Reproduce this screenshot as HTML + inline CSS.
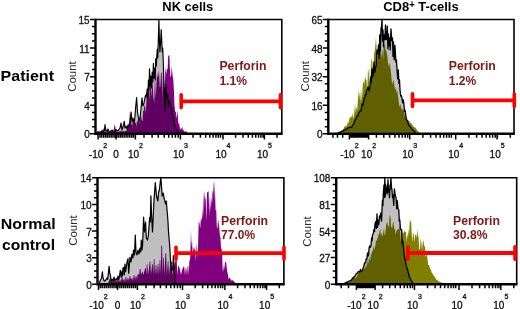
<!DOCTYPE html><html><head><meta charset="utf-8"><style>html,body{margin:0;padding:0;background:#fff;width:520px;height:309px;overflow:hidden}svg{display:block}</style></head><body><svg width="520" height="309" viewBox="0 0 520 309"><path d="M96.5 133.3L96.5 133.3L97.2 132.5L98.0 131.5L98.7 132.5L99.3 132.5L100.0 132.0L100.7 131.8L101.3 131.7L102.0 130.5L102.7 131.4L103.3 131.8L104.0 131.0L104.5 130.4L105.0 124.5L105.5 128.1L106.0 131.0L106.7 130.4L107.3 131.5L108.0 129.0L108.7 130.7L109.3 131.9L110.0 131.5L110.7 131.0L111.3 131.2L112.0 130.0L112.7 131.7L113.3 131.3L114.0 131.5L114.7 132.2L115.3 131.9L116.0 129.5L116.7 130.1L117.3 130.5L118.0 131.0L120.0 128.0L121.0 123.0L122.0 130.0L123.0 127.0L124.2 121.4L125.0 128.0L126.0 126.0L127.0 129.0L128.0 125.0L129.0 127.0L130.0 122.0L131.1 112.0L132.0 122.0L133.0 118.0L134.3 124.0L135.6 108.0L136.6 97.5L137.5 112.0L138.5 118.0L139.7 121.0L140.7 112.0L142.0 97.8L142.8 106.0L143.8 104.0L145.5 95.0L146.3 97.0L147.2 89.0L147.8 98.0L148.4 80.0L149.0 90.0L149.5 68.8L150.2 86.0L150.8 76.0L151.5 88.0L152.2 72.0L152.8 82.0L153.4 63.4L154.0 78.0L154.6 68.0L155.2 80.0L155.7 58.7L156.3 66.0L156.8 56.0L157.3 49.0L157.8 58.0L158.3 40.0L158.9 19.5L159.4 40.0L159.9 52.0L160.5 44.0L161.2 29.7L161.8 42.0L162.3 52.0L162.7 48.0L163.2 60.0L163.5 70.0L163.9 80.0L164.6 98.4L165.2 111.4L165.9 84.7L166.5 98.2L167.2 96.4L167.8 94.0L168.4 106.2L169.0 100.0L169.8 102.5L170.5 104.0L171.2 109.6L172.0 108.0L172.8 118.0L173.5 117.0L174.3 124.9L175.2 125.7L175.8 128.0L176.4 129.2L177.0 130.0L177.7 131.2L178.3 132.1L179.0 132.5L179.7 132.9L180.3 133.0L181.0 133.3L181.0 133.3Z" fill="#c0c0c0"/><path d="M97.0 133.3L97.0 133.3L97.8 132.9L98.5 132.8L99.2 132.0L100.0 131.5L100.7 132.2L101.3 131.9L102.0 132.0L102.8 130.4L103.7 128.0L104.3 131.5L105.0 131.5L105.8 131.8L106.5 132.2L107.2 132.2L108.0 132.0L108.8 132.1L109.5 131.9L110.2 131.4L111.0 131.0L111.7 132.2L112.3 131.7L113.0 132.0L113.9 128.6L114.8 124.0L115.4 127.6L116.0 131.0L116.8 131.4L117.5 131.7L118.2 132.2L119.0 131.5L119.8 131.6L120.5 131.1L121.2 131.1L122.0 130.5L122.8 132.0L123.5 130.8L124.2 131.6L125.0 131.0L125.7 130.9L126.3 130.9L127.0 129.0L127.8 127.7L128.5 124.0L129.2 122.8L130.0 110.4L130.5 120.5L131.0 122.0L131.7 124.8L132.3 125.6L133.0 118.0L133.7 123.6L134.3 122.2L135.0 123.0L135.7 122.4L136.3 126.8L137.0 120.0L137.7 122.2L138.3 118.9L139.0 116.0L139.7 123.8L140.3 120.1L141.0 114.0L141.7 120.2L142.5 121.0L143.2 110.0L143.8 111.2L144.3 105.0L145.1 107.0L145.9 113.2L146.7 93.7L147.6 90.9L148.4 82.0L149.2 101.0L150.0 80.0L150.8 82.0L151.7 97.5L152.5 78.0L153.3 96.5L154.2 102.9L155.0 74.0L155.7 98.6L156.3 87.9L157.0 72.0L157.7 77.5L158.3 75.4L159.0 70.0L159.7 87.2L160.3 87.1L161.0 72.0L161.7 73.2L162.3 98.6L163.0 69.0L163.8 84.6L164.7 90.4L165.5 66.3L166.2 74.4L167.0 68.0L167.6 70.3L168.2 55.2L168.8 55.7L169.4 55.2L169.8 66.0L170.4 77.6L171.1 75.2L171.7 66.3L172.5 75.0L173.3 80.0L174.0 92.0L174.4 104.0L175.2 111.4L175.9 112.0L176.7 118.8L177.5 110.0L178.3 123.7L179.1 123.0L179.9 128.0L180.4 129.5L181.0 129.0L181.6 128.3L182.2 126.6L182.8 130.0L183.5 130.0L184.2 131.9L185.0 131.0L185.8 131.5L186.5 131.5L187.2 132.6L187.9 132.8L188.6 133.3L188.6 133.3Z" fill="#800080" style="mix-blend-mode:multiply"/><path d="M96.5 133.3L97.2 132.5L98.0 131.5L98.7 132.5L99.3 132.5L100.0 132.0L100.7 131.8L101.3 131.7L102.0 130.5L102.7 131.4L103.3 131.8L104.0 131.0L104.5 130.4L105.0 124.5L105.5 128.1L106.0 131.0L106.7 130.4L107.3 131.5L108.0 129.0L108.7 130.7L109.3 131.9L110.0 131.5L110.7 131.0L111.3 131.2L112.0 130.0L112.7 131.7L113.3 131.3L114.0 131.5L114.7 132.2L115.3 131.9L116.0 129.5L116.7 130.1L117.3 130.5L118.0 131.0L120.0 128.0L121.0 123.0L122.0 130.0L123.0 127.0L124.2 121.4L125.0 128.0L126.0 126.0L127.0 129.0L128.0 125.0L129.0 127.0L130.0 122.0L131.1 112.0L132.0 122.0L133.0 118.0L134.3 124.0L135.6 108.0L136.6 97.5L137.5 112.0L138.5 118.0L139.7 121.0L140.7 112.0L142.0 97.8L142.8 106.0L143.8 104.0L145.5 95.0L146.3 97.0L147.2 89.0L147.8 98.0L148.4 80.0L149.0 90.0L149.5 68.8L150.2 86.0L150.8 76.0L151.5 88.0L152.2 72.0L152.8 82.0L153.4 63.4L154.0 78.0L154.6 68.0L155.2 80.0L155.7 58.7L156.3 66.0L156.8 56.0L157.3 49.0L157.8 58.0L158.3 40.0L158.9 19.5L159.4 40.0L159.9 52.0L160.5 44.0L161.2 29.7L161.8 42.0L162.3 52.0L162.7 48.0L163.2 60.0L163.5 70.0L163.9 80.0L164.6 98.4L165.2 111.4L165.9 84.7L166.5 98.2L167.2 96.4L167.8 94.0L168.4 106.2L169.0 100.0L169.8 102.5L170.5 104.0L171.2 109.6L172.0 108.0L172.8 118.0L173.5 117.0L174.3 124.9L175.2 125.7L175.8 128.0L176.4 129.2L177.0 130.0L177.7 131.2L178.3 132.1L179.0 132.5L179.7 132.9L180.3 133.0L181.0 133.3" fill="none" stroke="#000" stroke-width="1.15" stroke-linejoin="round"/><path d="M338.0 132.7L338.0 132.7L338.6 132.6L339.2 132.4L339.9 132.2L340.5 132.0L341.2 131.6L341.9 131.5L342.6 131.1L343.3 130.7L344.0 130.0L344.7 129.9L345.3 129.7L346.0 129.4L346.7 129.1L347.3 128.5L348.0 128.0L348.8 127.9L349.6 127.4L350.4 127.4L351.1 127.3L351.9 126.9L352.7 125.0L353.5 124.4L354.2 122.6L355.0 120.0L355.8 119.3L356.5 117.2L357.3 115.7L358.0 115.9L358.8 112.7L359.6 111.9L360.4 110.2L361.2 110.9L362.0 104.0L362.7 105.2L363.3 103.7L364.0 98.0L364.7 97.7L365.4 94.2L366.0 94.6L366.7 90.0L367.4 89.7L368.0 87.0L368.7 88.9L369.3 91.2L370.0 85.2L370.7 76.8L371.3 82.6L372.0 68.6L372.7 77.0L373.3 74.3L374.0 62.0L374.8 72.4L375.5 67.7L376.2 65.6L377.0 50.0L377.8 53.5L378.5 45.0L379.1 58.2L379.7 35.0L380.4 51.0L381.0 28.0L381.5 27.3L382.0 19.5L382.5 41.0L383.0 30.0L383.5 46.8L384.0 35.0L384.8 39.5L385.5 25.0L385.9 39.6L386.3 32.0L386.8 39.3L387.3 26.2L387.9 49.1L388.5 34.0L389.0 45.7L389.5 38.0L390.2 50.0L391.0 29.0L391.8 40.5L392.5 38.0L393.0 56.4L393.5 42.0L394.2 59.7L394.9 45.4L395.2 50.0L395.9 62.2L396.5 60.0L397.1 71.2L397.7 78.8L398.3 70.0L398.9 83.4L399.5 80.0L400.0 90.0L400.7 96.0L401.4 95.7L402.0 98.4L402.7 102.9L403.4 100.0L403.9 104.3L404.5 111.4L405.0 110.0L405.7 114.4L406.3 119.6L407.0 120.0L407.8 122.2L408.5 124.9L409.2 125.7L410.0 126.0L410.8 127.6L411.5 128.5L412.2 129.5L413.0 130.0L413.7 130.9L414.4 131.4L415.0 132.1L415.7 132.7L415.7 132.7Z" fill="#c0c0c0"/><path d="M335.0 132.7L335.0 132.7L335.7 132.6L336.5 132.5L337.2 132.3L338.0 132.4L338.7 132.0L339.4 131.6L340.0 131.5L340.7 131.6L341.3 130.5L342.0 130.0L342.7 129.9L343.5 129.3L344.2 127.1L345.0 127.1L345.7 125.0L346.5 126.5L347.2 124.4L348.0 121.0L348.7 123.9L349.3 119.3L350.0 117.0L350.7 117.7L351.4 115.7L352.0 118.1L352.7 112.7L353.5 119.3L354.2 113.8L355.0 104.0L355.8 113.0L356.5 106.5L357.2 110.6L358.0 98.0L358.4 95.8L358.8 90.0L359.5 95.0L360.3 102.0L361.0 88.0L361.7 101.3L362.3 93.2L363.0 82.0L363.7 82.1L364.3 84.6L365.0 76.0L365.8 79.7L366.5 79.9L367.2 93.1L368.0 68.6L368.7 72.4L369.3 91.5L370.0 62.0L370.7 89.2L371.3 61.1L372.0 58.0L372.8 69.1L373.5 71.4L374.2 52.9L375.0 50.0L375.6 37.2L376.2 55.5L376.8 37.2L377.0 48.0L377.7 62.5L378.3 47.9L379.0 45.0L379.7 56.9L380.3 50.4L381.0 50.0L381.8 58.7L382.5 48.0L383.1 60.9L383.8 42.5L384.4 46.2L385.0 42.5L385.5 50.0L386.0 50.0L386.8 53.1L387.5 57.3L388.3 67.0L389.0 62.2L389.8 65.0L390.6 69.1L391.4 77.1L392.1 84.8L392.9 81.7L393.7 80.0L394.4 86.0L395.1 90.2L395.9 86.9L396.6 93.2L397.3 90.0L397.8 95.3L398.3 98.0L399.0 103.7L399.8 107.4L400.5 103.5L401.2 107.9L401.9 109.7L402.7 109.0L403.4 110.0L404.2 112.6L404.9 116.8L405.7 118.0L406.4 116.1L407.2 119.3L407.9 121.3L408.7 120.0L409.5 121.4L410.3 123.1L411.0 122.8L411.8 124.2L412.6 125.6L413.4 126.2L414.1 127.2L414.9 127.2L415.7 128.0L416.5 129.3L417.2 130.5L418.0 131.0L418.7 131.7L419.3 132.2L420.0 132.7L420.0 132.7Z" fill="#808000" style="mix-blend-mode:multiply"/><path d="M338.0 132.7L338.6 132.6L339.2 132.4L339.9 132.2L340.5 132.0L341.2 131.6L341.9 131.5L342.6 131.1L343.3 130.7L344.0 130.0L344.7 129.9L345.3 129.7L346.0 129.4L346.7 129.1L347.3 128.5L348.0 128.0L348.8 127.9L349.6 127.4L350.4 127.4L351.1 127.3L351.9 126.9L352.7 125.0L353.5 124.4L354.2 122.6L355.0 120.0L355.8 119.3L356.5 117.2L357.3 115.7L358.0 115.9L358.8 112.7L359.6 111.9L360.4 110.2L361.2 110.9L362.0 104.0L362.7 105.2L363.3 103.7L364.0 98.0L364.7 97.7L365.4 94.2L366.0 94.6L366.7 90.0L367.4 89.7L368.0 87.0L368.7 88.9L369.3 91.2L370.0 85.2L370.7 76.8L371.3 82.6L372.0 68.6L372.7 77.0L373.3 74.3L374.0 62.0L374.8 72.4L375.5 67.7L376.2 65.6L377.0 50.0L377.8 53.5L378.5 45.0L379.1 58.2L379.7 35.0L380.4 51.0L381.0 28.0L381.5 27.3L382.0 19.5L382.5 41.0L383.0 30.0L383.5 46.8L384.0 35.0L384.8 39.5L385.5 25.0L385.9 39.6L386.3 32.0L386.8 39.3L387.3 26.2L387.9 49.1L388.5 34.0L389.0 45.7L389.5 38.0L390.2 50.0L391.0 29.0L391.8 40.5L392.5 38.0L393.0 56.4L393.5 42.0L394.2 59.7L394.9 45.4L395.2 50.0L395.9 62.2L396.5 60.0L397.1 71.2L397.7 78.8L398.3 70.0L398.9 83.4L399.5 80.0L400.0 90.0L400.7 96.0L401.4 95.7L402.0 98.4L402.7 102.9L403.4 100.0L403.9 104.3L404.5 111.4L405.0 110.0L405.7 114.4L406.3 119.6L407.0 120.0L407.8 122.2L408.5 124.9L409.2 125.7L410.0 126.0L410.8 127.6L411.5 128.5L412.2 129.5L413.0 130.0L413.7 130.9L414.4 131.4L415.0 132.1L415.7 132.7" fill="none" stroke="#000" stroke-width="1.3" stroke-linejoin="round"/><path d="M99.0 283.2L99.0 283.2L99.8 281.8L100.5 280.0L101.1 279.0L101.8 276.3L102.4 271.8L103.0 278.0L103.5 279.0L104.2 281.1L105.0 281.0L105.7 280.1L106.3 279.0L107.0 278.0L107.7 279.4L108.4 272.6L109.1 266.4L109.8 273.2L110.5 276.0L111.2 281.5L112.0 279.0L112.7 279.9L113.3 280.9L114.0 277.0L114.7 279.5L115.3 280.5L116.0 279.0L116.7 278.5L117.3 279.8L118.0 276.0L118.8 279.6L119.5 276.2L120.3 270.3L121.2 277.2L122.0 271.0L122.5 275.9L123.0 268.0L123.7 267.4L124.3 274.8L125.0 264.0L125.7 271.6L126.3 267.0L127.0 262.0L127.5 260.8L128.0 258.6L128.7 273.3L129.3 266.0L130.0 257.0L131.0 262.0L132.0 254.0L133.0 258.0L133.5 250.0L134.5 255.0L135.3 235.0L136.0 252.0L137.0 255.0L138.0 250.0L139.0 254.0L140.0 248.0L140.7 252.0L141.3 240.0L142.0 250.0L142.6 245.0L143.6 217.0L144.5 232.0L145.6 222.0L146.3 238.0L147.5 240.0L148.3 236.0L149.7 217.4L150.3 222.0L150.9 195.8L151.5 214.0L152.5 232.0L153.4 212.0L154.0 200.0L155.3 182.6L156.5 196.0L157.9 201.0L158.6 192.0L159.4 190.0L160.8 177.4L161.5 186.0L162.2 196.0L163.3 193.0L164.0 198.0L164.9 201.0L165.6 204.0L166.4 201.2L167.0 210.0L167.5 215.0L168.0 222.0L168.4 230.0L169.2 240.0L169.8 247.0L170.5 262.0L171.2 272.0L172.0 268.0L172.7 270.2L173.4 255.5L174.2 270.0L175.0 278.0L175.5 281.9L176.0 283.2L176.0 283.2Z" fill="#c0c0c0"/><path d="M108.0 283.2L108.0 283.2L109.7 279.0L110.3 279.0L111.0 282.0L111.7 280.0L112.3 280.0L113.0 282.0L113.7 278.0L114.3 278.0L115.0 282.0L115.7 280.0L116.3 280.0L117.0 282.0L117.7 279.0L118.3 279.0L119.0 282.0L119.7 280.0L120.3 280.0L121.0 282.0L121.7 277.0L122.3 277.0L123.0 281.0L123.7 279.0L124.3 279.0L125.0 282.0L125.7 277.0L126.3 277.0L127.0 281.0L127.7 278.0L128.3 278.0L129.0 281.0L129.7 276.0L130.3 276.0L131.0 280.0L131.7 278.0L132.3 278.0L133.0 281.0L133.7 275.0L134.3 275.0L135.0 280.0L135.7 276.0L136.3 276.0L137.0 279.0L137.7 274.0L138.3 274.0L139.0 275.0L139.8 268.9L140.6 268.9L141.0 275.0L142.2 272.0L142.8 272.0L143.5 275.0L145.1 268.0L145.8 268.0L146.3 275.0L146.8 264.2L147.4 264.2L148.0 275.0L149.0 268.0L149.7 261.3L150.3 261.3L151.0 275.0L152.1 264.2L152.8 264.2L153.2 275.0L153.8 259.0L154.4 259.0L155.0 275.0L155.7 265.0L156.3 265.0L157.0 275.0L157.7 264.0L158.3 264.0L159.0 275.0L159.7 260.0L160.3 260.0L160.8 275.0L161.3 245.6L162.1 245.6L162.6 275.0L163.2 257.8L163.8 257.8L164.5 275.0L165.4 253.2L166.2 253.2L166.8 275.0L167.8 261.3L168.4 261.3L169.0 275.0L170.0 265.0L171.2 261.3L171.9 261.3L172.5 275.0L174.0 266.0L175.0 262.0L175.9 260.0L176.7 260.0L177.3 275.0L178.2 266.0L178.8 266.0L179.8 268.9L181.0 275.0L182.0 270.0L183.6 266.6L184.2 266.6L185.0 275.0L185.7 268.0L186.3 268.0L187.0 275.0L187.7 266.0L188.3 266.0L188.8 275.0L189.3 262.0L190.2 257.8L191.0 230.2L191.5 246.4L192.0 240.0L192.8 256.1L193.5 247.0L194.3 250.6L195.1 245.8L195.9 261.6L196.7 242.4L197.4 257.1L198.0 248.1L198.7 221.5L199.5 223.0L200.2 228.5L201.0 216.8L201.6 221.3L202.2 217.6L202.8 210.0L203.2 190.7L203.8 217.1L204.4 190.7L205.0 198.0L205.7 199.0L206.3 221.7L207.0 192.0L207.8 192.6L208.6 190.7L209.3 216.2L210.0 195.0L210.8 211.5L211.6 196.2L212.1 203.4L212.5 190.0L213.0 193.4L213.5 180.0L214.1 200.9L214.7 180.0L215.0 190.0L215.6 211.0L216.2 209.0L216.8 226.9L217.4 229.1L218.0 219.0L218.5 222.0L219.2 227.4L219.8 234.7L220.5 238.0L221.2 251.7L221.9 246.5L222.6 269.0L223.2 271.5L223.9 264.0L224.4 269.8L225.0 262.0L225.5 262.2L226.0 261.4L226.5 265.7L227.0 270.0L227.5 273.1L228.0 274.7L228.7 279.6L229.3 277.9L230.0 278.0L230.7 279.4L231.3 281.1L232.0 279.5L232.7 280.6L233.3 281.3L234.0 281.0L234.8 282.4L235.5 283.2L235.5 283.2Z" fill="#800080" style="mix-blend-mode:multiply"/><path d="M99.0 283.2L99.8 281.8L100.5 280.0L101.1 279.0L101.8 276.3L102.4 271.8L103.0 278.0L103.5 279.0L104.2 281.1L105.0 281.0L105.7 280.1L106.3 279.0L107.0 278.0L107.7 279.4L108.4 272.6L109.1 266.4L109.8 273.2L110.5 276.0L111.2 281.5L112.0 279.0L112.7 279.9L113.3 280.9L114.0 277.0L114.7 279.5L115.3 280.5L116.0 279.0L116.7 278.5L117.3 279.8L118.0 276.0L118.8 279.6L119.5 276.2L120.3 270.3L121.2 277.2L122.0 271.0L122.5 275.9L123.0 268.0L123.7 267.4L124.3 274.8L125.0 264.0L125.7 271.6L126.3 267.0L127.0 262.0L127.5 260.8L128.0 258.6L128.7 273.3L129.3 266.0L130.0 257.0L131.0 262.0L132.0 254.0L133.0 258.0L133.5 250.0L134.5 255.0L135.3 235.0L136.0 252.0L137.0 255.0L138.0 250.0L139.0 254.0L140.0 248.0L140.7 252.0L141.3 240.0L142.0 250.0L142.6 245.0L143.6 217.0L144.5 232.0L145.6 222.0L146.3 238.0L147.5 240.0L148.3 236.0L149.7 217.4L150.3 222.0L150.9 195.8L151.5 214.0L152.5 232.0L153.4 212.0L154.0 200.0L155.3 182.6L156.5 196.0L157.9 201.0L158.6 192.0L159.4 190.0L160.8 177.4L161.5 186.0L162.2 196.0L163.3 193.0L164.0 198.0L164.9 201.0L165.6 204.0L166.4 201.2L167.0 210.0L167.5 215.0L168.0 222.0L168.4 230.0L169.2 240.0L169.8 247.0L170.5 262.0L171.2 272.0L172.0 268.0L172.7 270.2L173.4 255.5L174.2 270.0L175.0 278.0L175.5 281.9L176.0 283.2" fill="none" stroke="#000" stroke-width="1.2" stroke-linejoin="round"/><path d="M344.7 283.3L344.7 283.3L345.5 282.9L346.2 282.4L347.0 282.0L347.7 281.8L348.4 281.4L349.2 281.0L349.9 280.8L350.6 280.3L351.2 280.2L351.9 279.4L352.5 278.0L353.1 278.3L353.8 277.2L354.4 276.4L354.9 276.3L355.5 275.2L356.0 274.0L356.8 273.5L357.5 272.6L358.3 271.6L359.0 271.4L359.8 272.4L360.5 269.5L361.2 271.2L361.9 270.7L362.5 270.3L363.2 267.7L363.9 266.0L364.5 263.0L365.0 262.9L365.6 262.9L366.1 259.0L366.8 259.6L367.5 253.0L368.0 256.2L368.6 254.8L369.1 247.7L369.7 245.9L370.4 247.3L371.0 245.6L371.6 238.0L372.1 240.8L372.5 235.0L373.2 233.8L374.0 229.4L374.5 231.5L375.0 224.0L375.7 221.7L376.3 228.4L377.0 214.0L377.5 227.3L378.0 220.0L378.8 224.4L379.5 216.0L380.2 218.2L380.9 213.0L381.5 221.2L382.2 205.0L382.5 200.0L382.9 205.7L383.3 193.6L384.0 185.0L384.4 197.5L384.8 177.5L385.3 196.8L385.8 185.0L386.5 190.0L387.2 193.9L388.0 179.7L388.5 192.2L389.0 190.0L389.5 197.8L390.0 185.0L390.4 189.2L390.9 177.5L391.4 186.6L392.0 190.0L392.5 197.5L393.0 195.0L393.7 205.4L394.4 189.0L394.9 193.2L395.5 196.0L396.1 198.2L396.7 208.6L397.3 200.6L398.1 209.2L398.8 210.0L399.3 221.4L399.8 219.7L400.4 228.2L401.1 230.1L401.7 230.0L402.1 243.7L402.5 240.0L403.2 245.0L403.8 250.9L404.4 256.5L405.0 259.0L405.7 262.5L406.4 266.6L407.0 268.0L407.7 270.0L408.5 273.3L409.2 276.4L410.0 278.0L410.8 279.6L411.5 280.9L412.2 282.2L413.0 283.3L413.0 283.3Z" fill="#c0c0c0"/><path d="M342.0 283.3L342.0 283.3L342.7 283.1L343.3 283.0L344.0 282.9L344.7 282.6L345.3 282.4L346.0 282.0L346.7 282.1L347.3 281.6L348.0 281.6L348.7 281.5L349.3 281.5L350.0 280.5L350.7 280.0L351.3 279.8L352.0 278.9L352.7 279.6L353.3 279.0L354.0 277.0L354.7 276.4L355.3 278.3L356.0 277.8L356.7 276.4L357.3 275.7L358.0 273.0L358.8 272.9L359.5 271.6L360.2 273.1L361.0 270.0L361.7 269.9L362.3 270.1L363.0 270.0L363.6 268.6L364.3 268.0L364.9 268.8L365.4 267.0L366.0 262.0L366.6 267.8L367.1 264.8L367.7 260.0L368.4 263.7L369.0 256.0L369.7 259.7L370.3 260.3L371.0 252.0L371.6 255.5L372.2 250.0L372.9 252.2L373.5 245.0L374.1 249.7L374.8 247.6L375.4 245.7L376.0 240.0L376.8 241.1L377.5 238.0L377.9 237.8L378.4 234.3L379.1 234.5L379.7 230.9L380.4 228.4L380.9 235.8L381.5 234.0L382.0 232.0L382.7 237.4L383.3 232.5L384.0 228.0L384.7 235.4L385.3 233.9L386.0 226.0L386.6 223.6L387.2 221.2L387.9 225.5L388.5 226.0L389.0 228.8L389.5 214.4L390.1 219.3L390.7 214.4L391.1 229.5L391.5 226.0L392.2 227.9L392.8 223.5L393.5 221.2L394.2 230.1L395.0 228.0L395.7 235.0L396.3 231.5L397.0 230.0L397.8 229.7L398.5 228.0L399.1 231.1L399.8 222.6L400.4 242.8L401.0 230.0L401.8 242.5L402.5 231.0L403.1 232.3L403.6 233.9L404.2 229.4L404.8 231.9L405.4 232.1L406.0 232.0L406.6 243.6L407.2 233.0L407.9 238.4L408.5 228.4L409.0 234.7L409.5 226.0L409.9 219.0L410.5 222.7L411.1 219.0L411.5 230.0L412.2 242.5L413.0 232.0L413.7 234.7L414.3 243.0L415.0 234.0L415.6 234.6L416.2 238.3L416.9 234.0L417.5 229.5L418.0 236.8L418.5 236.0L419.2 250.3L420.0 248.5L420.7 238.2L421.4 242.7L422.1 250.8L422.8 242.3L423.5 240.0L424.2 247.3L425.0 245.0L425.6 257.3L426.1 254.7L426.7 255.0L427.5 258.7L428.2 264.9L429.0 265.0L429.7 267.2L430.3 268.9L431.0 270.0L431.8 272.9L432.5 273.5L433.2 274.9L434.0 276.0L434.8 277.1L435.5 278.1L436.2 279.4L437.0 280.0L437.8 280.6L438.5 281.2L439.2 281.6L440.0 282.0L440.7 282.3L441.4 282.6L442.2 282.8L442.9 283.1L443.6 283.3L443.6 283.3Z" fill="#808000" style="mix-blend-mode:multiply"/><path d="M344.7 283.3L345.5 282.9L346.2 282.4L347.0 282.0L347.7 281.8L348.4 281.4L349.2 281.0L349.9 280.8L350.6 280.3L351.2 280.2L351.9 279.4L352.5 278.0L353.1 278.3L353.8 277.2L354.4 276.4L354.9 276.3L355.5 275.2L356.0 274.0L356.8 273.5L357.5 272.6L358.3 271.6L359.0 271.4L359.8 272.4L360.5 269.5L361.2 271.2L361.9 270.7L362.5 270.3L363.2 267.7L363.9 266.0L364.5 263.0L365.0 262.9L365.6 262.9L366.1 259.0L366.8 259.6L367.5 253.0L368.0 256.2L368.6 254.8L369.1 247.7L369.7 245.9L370.4 247.3L371.0 245.6L371.6 238.0L372.1 240.8L372.5 235.0L373.2 233.8L374.0 229.4L374.5 231.5L375.0 224.0L375.7 221.7L376.3 228.4L377.0 214.0L377.5 227.3L378.0 220.0L378.8 224.4L379.5 216.0L380.2 218.2L380.9 213.0L381.5 221.2L382.2 205.0L382.5 200.0L382.9 205.7L383.3 193.6L384.0 185.0L384.4 197.5L384.8 177.5L385.3 196.8L385.8 185.0L386.5 190.0L387.2 193.9L388.0 179.7L388.5 192.2L389.0 190.0L389.5 197.8L390.0 185.0L390.4 189.2L390.9 177.5L391.4 186.6L392.0 190.0L392.5 197.5L393.0 195.0L393.7 205.4L394.4 189.0L394.9 193.2L395.5 196.0L396.1 198.2L396.7 208.6L397.3 200.6L398.1 209.2L398.8 210.0L399.3 221.4L399.8 219.7L400.4 228.2L401.1 230.1L401.7 230.0L402.1 243.7L402.5 240.0L403.2 245.0L403.8 250.9L404.4 256.5L405.0 259.0L405.7 262.5L406.4 266.6L407.0 268.0L407.7 270.0L408.5 273.3L409.2 276.4L410.0 278.0L410.8 279.6L411.5 280.9L412.2 282.2L413.0 283.3" fill="none" stroke="#000" stroke-width="1.3" stroke-linejoin="round"/><path d="M95.5 19.5H281.8V133.8" fill="none" stroke="#000" stroke-width="1.6"/><path d="M95.5 18.7V133.8H282.6" fill="none" stroke="#000" stroke-width="2.4"/><path d="M90.0 133.8H95.5M92.0 126.7H95.5M92.0 119.5H95.5M92.0 112.4H95.5M90.0 105.2H95.5M92.0 98.1H95.5M92.0 90.9H95.5M92.0 83.8H95.5M90.0 76.7H95.5M92.0 69.5H95.5M92.0 62.4H95.5M92.0 55.2H95.5M90.0 48.1H95.5M92.0 40.9H95.5M92.0 33.8H95.5M92.0 26.6H95.5M90.0 19.5H95.5" stroke="#000" stroke-width="1.5"/><text x="89.7" y="138.3" text-anchor="end" font-size="10" font-family="Liberation Sans, sans-serif" fill="#111" stroke="#111" stroke-width="0.3" transform="" >0</text><text x="89.7" y="109.7" text-anchor="end" font-size="10" font-family="Liberation Sans, sans-serif" fill="#111" stroke="#111" stroke-width="0.3" transform="" >4</text><text x="89.7" y="81.2" text-anchor="end" font-size="10" font-family="Liberation Sans, sans-serif" fill="#111" stroke="#111" stroke-width="0.3" transform="" >7</text><text x="89.7" y="52.6" text-anchor="end" font-size="10" font-family="Liberation Sans, sans-serif" fill="#111" stroke="#111" stroke-width="0.3" transform="" >11</text><text x="89.7" y="24.0" text-anchor="end" font-size="10" font-family="Liberation Sans, sans-serif" fill="#111" stroke="#111" stroke-width="0.3" transform="" >15</text><path d="M135.4 133.8v5.8M144.0 133.8v4M152.1 133.8v4M158.3 133.8v4M164.2 133.8v4M168.7 133.8v4M172.3 133.8v4M175.4 133.8v4M178.2 133.8v4M180.4 133.8v5.8M193.0 133.8v4M200.4 133.8v4M205.7 133.8v4M209.8 133.8v4M213.1 133.8v4M215.9 133.8v4M218.3 133.8v4M220.5 133.8v4M223.0 133.8v5.8M235.6 133.8v4M243.0 133.8v4M248.3 133.8v4M252.4 133.8v4M255.7 133.8v4M258.5 133.8v4M260.9 133.8v4M263.1 133.8v4M264.4 133.8v5.8M277.0 133.8v4M98.1 133.8v5.8M100.0 133.8v4M101.8 133.8v4M103.7 133.8v4M105.6 133.8v4M107.4 133.8v4M109.3 133.8v4M111.2 133.8v4M113.0 133.8v4M114.9 133.8v4M116.8 133.8v4M118.6 133.8v4M120.5 133.8v4M122.3 133.8v4M124.2 133.8v4M126.1 133.8v4M127.9 133.8v4M129.8 133.8v4M131.7 133.8v4M133.5 133.8v4M116.1 133.8v5.8" stroke="#000" stroke-width="1.5"/><text x="98.1" y="158.3" text-anchor="middle" font-size="10" font-family="Liberation Sans, sans-serif" fill="#111" stroke="#111" stroke-width="0.3">-10<tspan font-size="7" dy="-10">2</tspan></text><text x="116.1" y="158.3" text-anchor="middle" font-size="10" font-family="Liberation Sans, sans-serif" fill="#111" stroke="#111" stroke-width="0.3">0</text><text x="135.4" y="158.3" text-anchor="middle" font-size="10" font-family="Liberation Sans, sans-serif" fill="#111" stroke="#111" stroke-width="0.3">10<tspan font-size="7" dy="-10">2</tspan></text><text x="180.4" y="158.3" text-anchor="middle" font-size="10" font-family="Liberation Sans, sans-serif" fill="#111" stroke="#111" stroke-width="0.3">10<tspan font-size="7" dy="-10">3</tspan></text><text x="223.0" y="158.3" text-anchor="middle" font-size="10" font-family="Liberation Sans, sans-serif" fill="#111" stroke="#111" stroke-width="0.3">10<tspan font-size="7" dy="-10">4</tspan></text><text x="264.4" y="158.3" text-anchor="middle" font-size="10" font-family="Liberation Sans, sans-serif" fill="#111" stroke="#111" stroke-width="0.3">10<tspan font-size="7" dy="-10">5</tspan></text><text transform="translate(75.8,76.5) rotate(-90)" text-anchor="middle" font-size="10.5" font-family="Liberation Sans, sans-serif" fill="#2a2a2a" textLength="30.5" lengthAdjust="spacingAndGlyphs">Count</text><path d="M328.3 19.5H514.0V133.8" fill="none" stroke="#000" stroke-width="1.6"/><path d="M328.3 18.7V133.8H514.8" fill="none" stroke="#000" stroke-width="2.4"/><path d="M322.8 133.8H328.3M324.8 126.7H328.3M324.8 119.5H328.3M324.8 112.4H328.3M322.8 105.2H328.3M324.8 98.1H328.3M324.8 90.9H328.3M324.8 83.8H328.3M322.8 76.7H328.3M324.8 69.5H328.3M324.8 62.4H328.3M324.8 55.2H328.3M322.8 48.1H328.3M324.8 40.9H328.3M324.8 33.8H328.3M324.8 26.6H328.3M322.8 19.5H328.3" stroke="#000" stroke-width="1.5"/><text x="322.5" y="138.3" text-anchor="end" font-size="10" font-family="Liberation Sans, sans-serif" fill="#111" stroke="#111" stroke-width="0.3" transform="" >0</text><text x="322.5" y="109.7" text-anchor="end" font-size="10" font-family="Liberation Sans, sans-serif" fill="#111" stroke="#111" stroke-width="0.3" transform="" >16</text><text x="322.5" y="81.2" text-anchor="end" font-size="10" font-family="Liberation Sans, sans-serif" fill="#111" stroke="#111" stroke-width="0.3" transform="" >32</text><text x="322.5" y="52.6" text-anchor="end" font-size="10" font-family="Liberation Sans, sans-serif" fill="#111" stroke="#111" stroke-width="0.3" transform="" >48</text><text x="322.5" y="24.0" text-anchor="end" font-size="10" font-family="Liberation Sans, sans-serif" fill="#111" stroke="#111" stroke-width="0.3" transform="" >65</text><path d="M368.6 133.8v5.8M376.4 133.8v4M383.8 133.8v4M389.6 133.8v4M394.9 133.8v4M399.0 133.8v4M402.3 133.8v4M405.2 133.8v4M407.6 133.8v4M409.7 133.8v5.8M422.9 133.8v4M430.6 133.8v4M436.0 133.8v4M440.2 133.8v4M443.7 133.8v4M446.6 133.8v4M449.2 133.8v4M451.4 133.8v4M455.7 133.8v5.8M468.9 133.8v4M476.6 133.8v4M482.0 133.8v4M486.2 133.8v4M489.7 133.8v4M492.6 133.8v4M495.2 133.8v4M497.4 133.8v4M497.1 133.8v5.8M510.3 133.8v4M349.4 133.8v5.8M350.4 133.8v4M351.3 133.8v4M352.3 133.8v4M353.2 133.8v4M354.2 133.8v4M355.2 133.8v4M356.1 133.8v4M357.1 133.8v4M358.0 133.8v4M359.0 133.8v4M360.0 133.8v4M360.9 133.8v4M361.9 133.8v4M362.8 133.8v4M363.8 133.8v4M364.8 133.8v4M365.7 133.8v4M366.7 133.8v4M367.6 133.8v4M342.7 133.8v4M337.5 133.8v4M332.9 133.8v4" stroke="#000" stroke-width="1.5"/><text x="349.4" y="158.3" text-anchor="middle" font-size="10" font-family="Liberation Sans, sans-serif" fill="#111" stroke="#111" stroke-width="0.3">-10<tspan font-size="7" dy="-10">2</tspan></text><text x="368.6" y="158.3" text-anchor="middle" font-size="10" font-family="Liberation Sans, sans-serif" fill="#111" stroke="#111" stroke-width="0.3">10<tspan font-size="7" dy="-10">2</tspan></text><text x="409.7" y="158.3" text-anchor="middle" font-size="10" font-family="Liberation Sans, sans-serif" fill="#111" stroke="#111" stroke-width="0.3">10<tspan font-size="7" dy="-10">3</tspan></text><text x="455.7" y="158.3" text-anchor="middle" font-size="10" font-family="Liberation Sans, sans-serif" fill="#111" stroke="#111" stroke-width="0.3">10<tspan font-size="7" dy="-10">4</tspan></text><text x="497.1" y="158.3" text-anchor="middle" font-size="10" font-family="Liberation Sans, sans-serif" fill="#111" stroke="#111" stroke-width="0.3">10<tspan font-size="7" dy="-10">5</tspan></text><text transform="translate(308.6,76.2) rotate(-90)" text-anchor="middle" font-size="10.5" font-family="Liberation Sans, sans-serif" fill="#2a2a2a" textLength="30.5" lengthAdjust="spacingAndGlyphs">Count</text><path d="M97.5 177.8H283.9V284.3" fill="none" stroke="#000" stroke-width="1.6"/><path d="M97.5 177.0V284.3H284.7" fill="none" stroke="#000" stroke-width="2.4"/><path d="M92.0 284.3H97.5M94.0 277.6H97.5M94.0 271.0H97.5M94.0 264.3H97.5M92.0 257.7H97.5M94.0 251.0H97.5M94.0 244.4H97.5M94.0 237.7H97.5M92.0 231.1H97.5M94.0 224.4H97.5M94.0 217.7H97.5M94.0 211.1H97.5M92.0 204.4H97.5M94.0 197.8H97.5M94.0 191.1H97.5M94.0 184.5H97.5M92.0 177.8H97.5" stroke="#000" stroke-width="1.5"/><text x="91.7" y="288.8" text-anchor="end" font-size="10" font-family="Liberation Sans, sans-serif" fill="#111" stroke="#111" stroke-width="0.3" transform="" >0</text><text x="91.7" y="262.2" text-anchor="end" font-size="10" font-family="Liberation Sans, sans-serif" fill="#111" stroke="#111" stroke-width="0.3" transform="" >3</text><text x="91.7" y="235.6" text-anchor="end" font-size="10" font-family="Liberation Sans, sans-serif" fill="#111" stroke="#111" stroke-width="0.3" transform="" >7</text><text x="91.7" y="208.9" text-anchor="end" font-size="10" font-family="Liberation Sans, sans-serif" fill="#111" stroke="#111" stroke-width="0.3" transform="" >10</text><text x="91.7" y="182.3" text-anchor="end" font-size="10" font-family="Liberation Sans, sans-serif" fill="#111" stroke="#111" stroke-width="0.3" transform="" >14</text><path d="M137.4 284.3v5.8M146.0 284.3v4M154.1 284.3v4M160.4 284.3v4M166.3 284.3v4M170.8 284.3v4M174.4 284.3v4M177.5 284.3v4M180.2 284.3v4M182.5 284.3v5.8M195.2 284.3v4M202.6 284.3v4M207.8 284.3v4M211.9 284.3v4M215.2 284.3v4M218.0 284.3v4M220.5 284.3v4M222.6 284.3v4M224.9 284.3v5.8M237.6 284.3v4M245.0 284.3v4M250.2 284.3v4M254.3 284.3v4M257.6 284.3v4M260.4 284.3v4M262.9 284.3v4M265.0 284.3v4M266.6 284.3v5.8M279.3 284.3v4M98.5 284.3v5.8M100.4 284.3v4M102.3 284.3v4M104.3 284.3v4M106.2 284.3v4M108.2 284.3v4M110.1 284.3v4M112.1 284.3v4M114.0 284.3v4M116.0 284.3v4M117.9 284.3v4M119.9 284.3v4M121.8 284.3v4M123.8 284.3v4M125.7 284.3v4M127.7 284.3v4M129.6 284.3v4M131.6 284.3v4M133.5 284.3v4M135.5 284.3v4M117.5 284.3v5.8" stroke="#000" stroke-width="1.5"/><text x="98.5" y="308.8" text-anchor="middle" font-size="10" font-family="Liberation Sans, sans-serif" fill="#111" stroke="#111" stroke-width="0.3">-10<tspan font-size="7" dy="-10">2</tspan></text><text x="117.5" y="308.8" text-anchor="middle" font-size="10" font-family="Liberation Sans, sans-serif" fill="#111" stroke="#111" stroke-width="0.3">0</text><text x="137.4" y="308.8" text-anchor="middle" font-size="10" font-family="Liberation Sans, sans-serif" fill="#111" stroke="#111" stroke-width="0.3">10<tspan font-size="7" dy="-10">2</tspan></text><text x="182.5" y="308.8" text-anchor="middle" font-size="10" font-family="Liberation Sans, sans-serif" fill="#111" stroke="#111" stroke-width="0.3">10<tspan font-size="7" dy="-10">3</tspan></text><text x="224.9" y="308.8" text-anchor="middle" font-size="10" font-family="Liberation Sans, sans-serif" fill="#111" stroke="#111" stroke-width="0.3">10<tspan font-size="7" dy="-10">4</tspan></text><text x="266.6" y="308.8" text-anchor="middle" font-size="10" font-family="Liberation Sans, sans-serif" fill="#111" stroke="#111" stroke-width="0.3">10<tspan font-size="7" dy="-10">5</tspan></text><text transform="translate(76.5,230.5) rotate(-90)" text-anchor="middle" font-size="10.5" font-family="Liberation Sans, sans-serif" fill="#2a2a2a" textLength="30.5" lengthAdjust="spacingAndGlyphs">Count</text><path d="M336.2 177.8H516.7V284.2" fill="none" stroke="#000" stroke-width="1.6"/><path d="M336.2 177.0V284.2H517.5" fill="none" stroke="#000" stroke-width="2.4"/><path d="M330.7 284.2H336.2M332.7 277.6H336.2M332.7 270.9H336.2M332.7 264.2H336.2M330.7 257.6H336.2M332.7 250.9H336.2M332.7 244.3H336.2M332.7 237.7H336.2M330.7 231.0H336.2M332.7 224.3H336.2M332.7 217.7H336.2M332.7 211.1H336.2M330.7 204.4H336.2M332.7 197.8H336.2M332.7 191.1H336.2M332.7 184.5H336.2M330.7 177.8H336.2" stroke="#000" stroke-width="1.5"/><text x="330.4" y="288.7" text-anchor="end" font-size="10" font-family="Liberation Sans, sans-serif" fill="#111" stroke="#111" stroke-width="0.3" transform="" >0</text><text x="330.4" y="262.1" text-anchor="end" font-size="10" font-family="Liberation Sans, sans-serif" fill="#111" stroke="#111" stroke-width="0.3" transform="" >27</text><text x="330.4" y="235.5" text-anchor="end" font-size="10" font-family="Liberation Sans, sans-serif" fill="#111" stroke="#111" stroke-width="0.3" transform="" >54</text><text x="330.4" y="208.9" text-anchor="end" font-size="10" font-family="Liberation Sans, sans-serif" fill="#111" stroke="#111" stroke-width="0.3" transform="" >81</text><text x="330.4" y="182.3" text-anchor="end" font-size="10" font-family="Liberation Sans, sans-serif" fill="#111" stroke="#111" stroke-width="0.3" transform="" >108</text><path d="M375.1 284.2v5.8M382.6 284.2v4M389.7 284.2v4M395.2 284.2v4M400.3 284.2v4M404.3 284.2v4M407.4 284.2v4M410.2 284.2v4M412.5 284.2v4M414.5 284.2v5.8M427.5 284.2v4M435.1 284.2v4M440.5 284.2v4M444.7 284.2v4M448.1 284.2v4M451.0 284.2v4M453.5 284.2v4M455.7 284.2v4M459.0 284.2v5.8M472.0 284.2v4M479.6 284.2v4M485.0 284.2v4M489.2 284.2v4M492.6 284.2v4M495.5 284.2v4M498.0 284.2v4M500.2 284.2v4M500.8 284.2v5.8M513.8 284.2v4M356.4 284.2v5.8M357.3 284.2v4M358.2 284.2v4M359.2 284.2v4M360.1 284.2v4M361.0 284.2v4M362.0 284.2v4M362.9 284.2v4M363.9 284.2v4M364.8 284.2v4M365.7 284.2v4M366.7 284.2v4M367.6 284.2v4M368.5 284.2v4M369.5 284.2v4M370.4 284.2v4M371.4 284.2v4M372.3 284.2v4M373.2 284.2v4M374.2 284.2v4M348.5 284.2v4M341.2 284.2v4" stroke="#000" stroke-width="1.5"/><text x="356.4" y="308.7" text-anchor="middle" font-size="10" font-family="Liberation Sans, sans-serif" fill="#111" stroke="#111" stroke-width="0.3">-10<tspan font-size="7" dy="-10">2</tspan></text><text x="375.1" y="308.7" text-anchor="middle" font-size="10" font-family="Liberation Sans, sans-serif" fill="#111" stroke="#111" stroke-width="0.3">10<tspan font-size="7" dy="-10">2</tspan></text><text x="414.5" y="308.7" text-anchor="middle" font-size="10" font-family="Liberation Sans, sans-serif" fill="#111" stroke="#111" stroke-width="0.3">10<tspan font-size="7" dy="-10">3</tspan></text><text x="459.0" y="308.7" text-anchor="middle" font-size="10" font-family="Liberation Sans, sans-serif" fill="#111" stroke="#111" stroke-width="0.3">10<tspan font-size="7" dy="-10">4</tspan></text><text x="500.8" y="308.7" text-anchor="middle" font-size="10" font-family="Liberation Sans, sans-serif" fill="#111" stroke="#111" stroke-width="0.3">10<tspan font-size="7" dy="-10">5</tspan></text><text transform="translate(310.7,231.5) rotate(-90)" text-anchor="middle" font-size="10.5" font-family="Liberation Sans, sans-serif" fill="#2a2a2a" textLength="30.5" lengthAdjust="spacingAndGlyphs">Count</text><path d="M181.2 101.3H280.5" stroke="#ff0000" stroke-width="3.8"/><path d="M181.2 94.8V107.6M280.5 94.8V107.6" stroke="#ff0000" stroke-width="3.6" stroke-linecap="round"/><path d="M412.5 100.3H514.3" stroke="#ff0000" stroke-width="3.8"/><path d="M412.5 93.7V106.5M514.3 93.7V106.5" stroke="#ff0000" stroke-width="3.6" stroke-linecap="round"/><path d="M176 253.1H284" stroke="#ff0000" stroke-width="3.8"/><path d="M176 247.2V259.2M284 247.2V259.2" stroke="#ff0000" stroke-width="3.6" stroke-linecap="round"/><path d="M407.9 253.0H515.0" stroke="#ff0000" stroke-width="3.8"/><path d="M407.9 246.8V259.2M515.0 246.8V259.2" stroke="#ff0000" stroke-width="3.6" stroke-linecap="round"/><text x="219.4" y="70" font-size="12.6" font-weight="bold" font-family="Liberation Sans, sans-serif" fill="#801616" textLength="47" lengthAdjust="spacingAndGlyphs">Perforin</text><text x="219.4" y="85" font-size="12.6" font-weight="bold" font-family="Liberation Sans, sans-serif" fill="#801616" textLength="27.5" lengthAdjust="spacingAndGlyphs">1.1%</text><text x="448.8" y="70" font-size="12.6" font-weight="bold" font-family="Liberation Sans, sans-serif" fill="#801616" textLength="47" lengthAdjust="spacingAndGlyphs">Perforin</text><text x="448.8" y="85" font-size="12.6" font-weight="bold" font-family="Liberation Sans, sans-serif" fill="#801616" textLength="27.5" lengthAdjust="spacingAndGlyphs">1.2%</text><text x="221.1" y="225" font-size="12.6" font-weight="bold" font-family="Liberation Sans, sans-serif" fill="#801616" textLength="47" lengthAdjust="spacingAndGlyphs">Perforin</text><text x="221.1" y="238.8" font-size="12.6" font-weight="bold" font-family="Liberation Sans, sans-serif" fill="#801616" textLength="34" lengthAdjust="spacingAndGlyphs">77.0%</text><text x="453" y="225.2" font-size="12.6" font-weight="bold" font-family="Liberation Sans, sans-serif" fill="#801616" textLength="47" lengthAdjust="spacingAndGlyphs">Perforin</text><text x="453" y="238.5" font-size="12.6" font-weight="bold" font-family="Liberation Sans, sans-serif" fill="#801616" textLength="34.5" lengthAdjust="spacingAndGlyphs">30.8%</text><text x="162.3" y="11" font-size="13.6" font-weight="bold" font-family="Liberation Sans, sans-serif" fill="#000" textLength="51" lengthAdjust="spacingAndGlyphs">NK cells</text><text x="383.2" y="11" font-size="13.6" font-weight="bold" font-family="Liberation Sans, sans-serif" fill="#000" textLength="75.5" lengthAdjust="spacingAndGlyphs">CD8<tspan font-size="10" dy="-2.6">+</tspan><tspan dy="2.6"> T-cells</tspan></text><text x="0.5" y="81" font-size="14.3" font-weight="bold" font-family="Liberation Sans, sans-serif" fill="#000" textLength="53.5" lengthAdjust="spacingAndGlyphs">Patient</text><text x="0.8" y="228.5" font-size="14.3" font-weight="bold" font-family="Liberation Sans, sans-serif" fill="#000" textLength="55" lengthAdjust="spacingAndGlyphs">Normal</text><text x="2.0" y="249.5" font-size="14.3" font-weight="bold" font-family="Liberation Sans, sans-serif" fill="#000" textLength="53" lengthAdjust="spacingAndGlyphs">control</text></svg></body></html>
